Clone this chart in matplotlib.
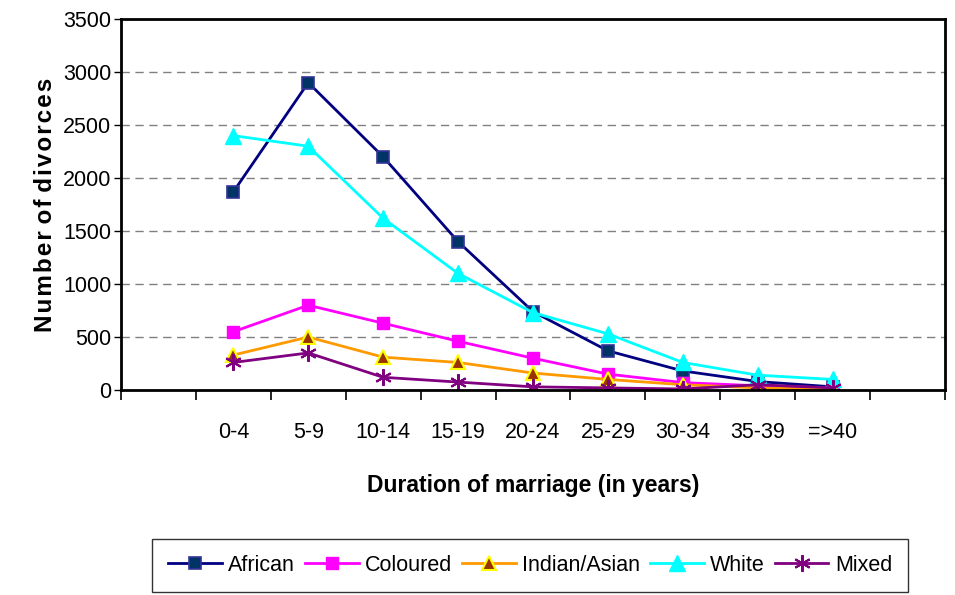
import matplotlib.pyplot as plt
from matplotlib.ticker import FixedLocator, NullFormatter

plt.rcParams['font.family'] = ['Liberation Sans', 'DejaVu Sans']

durations = ["0-4", "5-9", "10-14", "15-19", "20-24", "25-29", "30-34", "35-39", "=>40"]
african = [1870, 2900, 2200, 1400, 740, 370, 180, 80, 30]
coloured = [550, 800, 630, 460, 300, 150, 70, 40, 20]
indian_asian = [330, 500, 310, 260, 160, 100, 50, 20, 5]
white = [2400, 2300, 1620, 1100, 730, 530, 260, 140, 100]
mixed = [260, 350, 120, 75, 30, 20, 10, 50, 20]

fig = plt.figure(figsize=(9.55, 5.95), dpi=100)
ax = fig.add_axes([0.1267, 0.3445, 0.8628, 0.6235])

# one empty slot on each side, like the original category axis
x = [i + 1.5 for i in range(len(durations))]

ax.plot(x, african, color='#000080', lw=2, marker='s', ms=9,
        mfc='#003366', mec='#333399', mew=1.2, label='African')
ax.plot(x, coloured, color='#FF00FF', lw=2, marker='s', ms=9,
        mfc='#FF00FF', mec='#FF00FF', label='Coloured')
ax.plot(x, indian_asian, color='#FF9900', lw=2, marker='^', ms=10,
        mfc='#993300', mec='#FFFF00', mew=1.5, label='Indian/Asian')
ax.plot(x, white, color='#00FFFF', lw=2, marker='^', ms=11,
        mfc='#00FFFF', mec='#00FFFF', label='White')
ax.plot(x, mixed, color='#800080', lw=2, marker=(6, 2, 0), ms=12,
        mec='#800080', mew=1.5, label='Mixed')

ax.set_xlim(0, 11)
ax.set_ylim(0, 3500)
ax.set_yticks(range(0, 3501, 500))
ax.yaxis.grid(True, linestyle=(0, (6, 4)), color='#808080', lw=1)
ax.set_axisbelow(True)

ax.xaxis.set_major_locator(FixedLocator(range(0, 12)))
ax.xaxis.set_major_formatter(NullFormatter())
ax.xaxis.set_minor_locator(FixedLocator(x))
ax.set_xticklabels(durations, minor=True)
ax.tick_params(axis='x', which='major', direction='out', length=7, width=1.2)
ax.tick_params(axis='x', which='minor', length=0, pad=23, labelsize=15.5)
ax.tick_params(axis='y', direction='out', length=5, width=1, labelsize=15.5, pad=2)

for s in ax.spines.values():
    s.set_linewidth(2)
    s.set_color('black')

ax.set_ylabel('N\u200au\u200am\u200ab\u200ae\u200ar o\u200af d\u200ai\u200av\u200ao\u200ar\u200ac\u200ae\u200as',
              fontsize=17.5, fontweight='bold', labelpad=4)
ax.set_xlabel('Duration of marriage (in years)', fontsize=16.5, fontweight='bold', labelpad=22)

leg = fig.legend(loc='lower center', bbox_to_anchor=(0.555, 0.005), ncol=5, fontsize=15.5,
                 frameon=True, fancybox=False, edgecolor='black', handlelength=2.5,
                 handletextpad=0.3, columnspacing=0.45, borderpad=0.75, borderaxespad=0)
leg.get_frame().set_linewidth(1)

fig.savefig('out.png', dpi=100)
